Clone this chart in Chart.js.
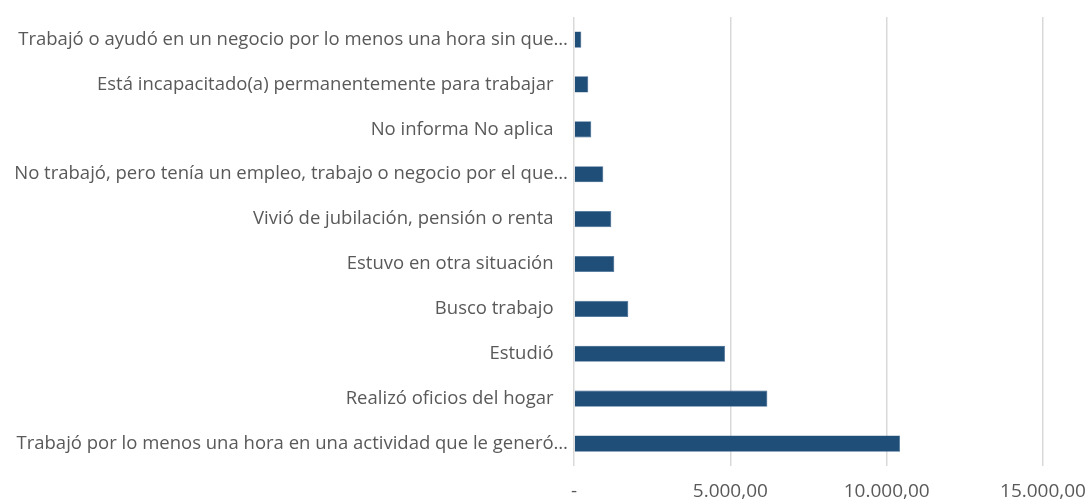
<!DOCTYPE html>
<html>
<head>
<meta charset="utf-8">
<script src="https://cdn.jsdelivr.net/npm/chart.js@4/dist/chart.umd.min.js"></script>
<style>
html,body{margin:0;padding:0;background:#fff;}
#wrap{width:1086px;height:502px;position:relative;}
</style>
</head>
<body>
<div id="wrap"><canvas id="c" width="1086" height="502"></canvas></div>
<script>
const categories = [
  "Trabajó o ayudó en un negocio por lo menos una hora sin que…",
  "Está incapacitado(a) permanentemente para trabajar",
  "No informa No aplica",
  "No trabajó, pero tenía un empleo, trabajo o negocio por el que…",
  "Vivió de jubilación, pensión o renta",
  "Estuvo en otra situación",
  "Busco trabajo",
  "Estudió",
  "Realizó oficios del hogar",
  "Trabajó por lo menos una hora en una actividad que le generó…"
];
const values = [234, 457, 553, 937, 1193, 1289, 1737, 4830, 6184, 10429];
const xTicks = [0, 5000, 10000, 15000];
const xTickLabels = ["-", "5.000,00", "10.000,00", "15.000,00"];

const FONT = "'Open Sans', 'Liberation Sans', sans-serif";
new Chart(document.getElementById('c'), {
  type: 'bar',
  data: {
    labels: categories,
    datasets: [{
      data: values,
      backgroundColor: '#1F4E79',
      borderColor: '#3f6690',
      borderWidth: 0.6,
      barPercentage: 0.72,
      categoryPercentage: 0.5
    }]
  },
  options: {
    indexAxis: 'y',
    responsive: false,
    animation: false,
    layout: { padding: { top: 13, right: 43, bottom: 0, left: 0 } },
    plugins: { legend: { display: false }, tooltip: { enabled: false } },
    scales: {
      x: {
        min: 0, max: 15000,
        afterBuildTicks: s => { s.ticks = xTicks.map(v => ({ value: v })); },
        ticks: {
          callback: (v) => { const i = xTicks.indexOf(v); return i >= 0 ? xTickLabels[i] : ''; },
          color: '#595959',
          font: { family: FONT, size: 19 },
          padding: 14,
          maxRotation: 0
        },
        grid: { color: '#d9d9d9', lineWidth: 1.5, drawTicks: false },
        border: { display: false },
        afterFit: s => { s.height = 36; s.paddingLeft = 0; s.paddingRight = 0; }
      },
      y: {
        ticks: {
          color: '#595959',
          font: { family: FONT, size: 18.5 },
          padding: 6,
          autoSkip: false,
          callback: function (v) {
            const t = categories[v];
            return t.endsWith('…') ? t : t + '\u00A0\u00A0\u00A0';
          }
        },
        grid: { display: false, drawTicks: false },
        border: { display: false },
        afterFit: s => { s.width = 574; }
      }
    }
  }
});
</script>
</body>
</html>
